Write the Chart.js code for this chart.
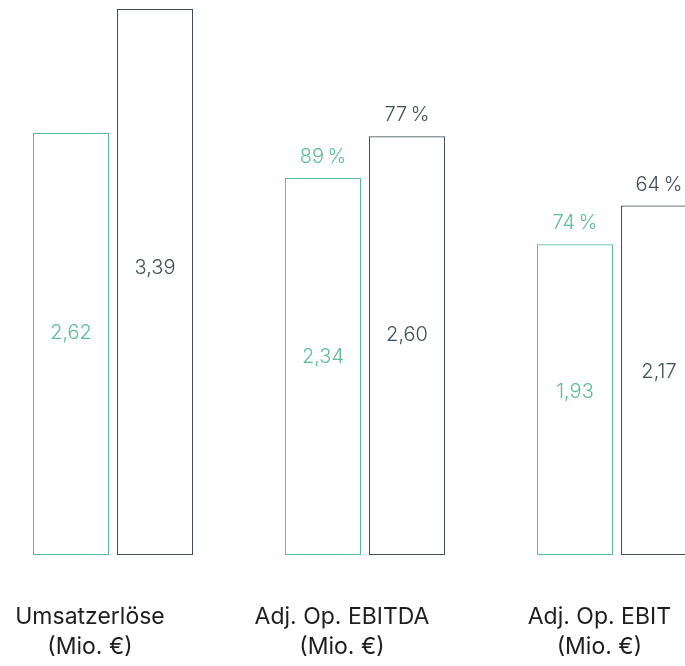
<!DOCTYPE html>
<html>
<head>
<meta charset="utf-8">
<script src="https://cdn.jsdelivr.net/npm/chart.js@4.4.1/dist/chart.umd.min.js"></script>
<style>
  html, body { margin: 0; padding: 0; background: #fff; overflow: hidden; width: 685px; height: 666px; }
  #chart { position: absolute; left: -13px; top: 0; }
</style>
</head>
<body>
<canvas id="chart" width="756" height="666"></canvas>
<script>
// key figures, prior year (green) vs. current year (dark)
const categories = [
  ['Umsatzerlöse', '(Mio. €)'],
  ['Adj. Op. EBITDA', '(Mio. €)'],
  ['Adj. Op. EBIT', '(Mio. €)']
];
const priorValues = [2.62, 2.34, 1.93];
const currentValues = [3.39, 2.60, 2.17];
// growth shown above the bars (none for revenue)
const priorPct = [null, 89, 74];
const currentPct = [null, 77, 64];

const green = '#5bbd93';
const dark = '#3e4e57';
const fontFamily = 'Inter, "Noto Sans", sans-serif';

const fmtNum = v => v.toFixed(2).replace('.', ',');

const barLabels = {
  id: 'barLabels',
  afterDatasetsDraw(chart) {
    const {ctx, scales: {x, y}} = chart;
    const pcts = [priorPct, currentPct];
    ctx.save();
    ctx.textAlign = 'center';
    ctx.textBaseline = 'middle';
    chart.data.datasets.forEach((ds, di) => {
      chart.getDatasetMeta(di).data.forEach((bar, i) => {
        const v = ds.data[i];
        ctx.fillStyle = ds.borderColor;
        ctx.font = '300 20px ' + fontFamily;
        ctx.fillText(fmtNum(v), bar.x, y.getPixelForValue(v * 0.525));
        const p = pcts[di][i];
        if (p != null) ctx.fillText(p + '\u2009%', bar.x, bar.y - 21);
      });
    });

    // category names under each group; the last one is pulled in from the right edge
    ctx.fillStyle = '#1e1e1e';
    ctx.font = '400 23px ' + fontFamily;
    const rightLimit = 13 + 685 - 14;
    categories.forEach((lines, i) => {
      let cx = x.getPixelForValue(i) - 23;
      const w = Math.max(...lines.map(t => ctx.measureText(t).width));
      if (i === categories.length - 1) cx = rightLimit - w / 2;
      lines.forEach((t, li) => ctx.fillText(t, cx, 617 + li * 30));
    });
    ctx.restore();
  }
};

new Chart(document.getElementById('chart'), {
  type: 'bar',
  data: {
    labels: categories.map(c => c.join(' ')),
    datasets: [
      {data: priorValues, borderColor: green, backgroundColor: 'rgba(0,0,0,0)', borderWidth: 1},
      {data: currentValues, borderColor: dark, backgroundColor: 'rgba(0,0,0,0)', borderWidth: 1}
    ]
  },
  options: {
    responsive: false,
    animation: false,
    devicePixelRatio: 1,
    layout: {padding: {top: 9, bottom: 111, left: 0, right: 0}},
    datasets: {bar: {categoryPercentage: 168 / 252, barPercentage: 76 / 84, borderSkipped: false}},
    scales: {
      x: {display: false},
      y: {display: false, min: 0, max: 3.39}
    },
    plugins: {legend: {display: false}, tooltip: {enabled: false}}
  },
  plugins: [barLabels]
});
</script>
</body>
</html>
